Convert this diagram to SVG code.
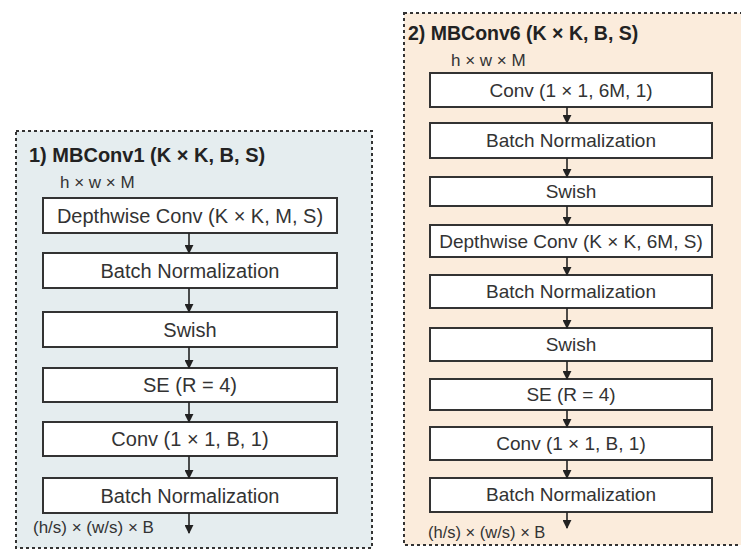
<svg xmlns="http://www.w3.org/2000/svg" width="741" height="552" viewBox="0 0 741 552">
  <defs>
    <marker id="arrow" viewBox="0 0 10 10" refX="9" refY="5" markerWidth="9" markerHeight="9" markerUnits="userSpaceOnUse" orient="auto">
      <path d="M0,0 L10,5 L0,10 z" fill="#222"/>
    </marker>
    <style>
      .panel { stroke: #333; stroke-width: 2; stroke-dasharray: 3 3; }
      .box { fill: #fff; stroke: #333; stroke-width: 2; }
      .label { font-family: "Liberation Sans", Arial, sans-serif; font-size: 20px; fill: #333; text-anchor: middle; }
      .label.sm { font-size: 19px; }
      .title { font-family: "Liberation Sans", Arial, sans-serif; font-size: 20px; font-weight: bold; fill: #222; }
      .title.sm { font-size: 19.5px; }
      .dim { font-family: "Liberation Sans", Arial, sans-serif; font-size: 17px; fill: #333; }
      .dim.sm { font-size: 16.5px; }
      .edge { stroke: #222; stroke-width: 1.6; fill: none; marker-end: url(#arrow); }
    </style>
  </defs>
  <rect width="741" height="552" fill="#fff"/>

  <!-- Panel 1: MBConv1 -->
  <g id="panel-mbconv1">
    <rect class="panel" x="16" y="131" width="356" height="417" fill="#e5edef"/>
    <text class="title" x="29" y="162">1) MBConv1 (K × K, B, S)</text>
    <text class="dim" x="60" y="188">h × w × M</text>
  </g>
  <g id="p1-dwconv"><rect class="box" x="43" y="198" width="294" height="35"/><text class="label" x="190" y="223">Depthwise Conv (K × K, M, S)</text></g>
  <g id="p1-bn1"><rect class="box" x="43" y="253" width="294" height="35"/><text class="label" x="190" y="278">Batch Normalization</text></g>
  <g id="p1-swish"><rect class="box" x="43" y="312" width="294" height="35"/><text class="label" x="190" y="337">Swish</text></g>
  <g id="p1-se"><rect class="box" x="43" y="368" width="294" height="34"/><text class="label" x="190" y="392">SE (R = 4)</text></g>
  <g id="p1-conv"><rect class="box" x="43" y="422" width="294" height="34"/><text class="label" x="190" y="446">Conv (1 × 1, B, 1)</text></g>
  <g id="p1-bn2"><rect class="box" x="43" y="478" width="294" height="35"/><text class="label" x="190" y="503">Batch Normalization</text></g>
  <g id="p1-out"><text class="dim" x="33" y="533">(h/s) × (w/s) × B</text></g>

  <!-- Panel 2: MBConv6 -->
  <g id="panel-mbconv6">
    <rect class="panel" x="404" y="13" width="345" height="532" fill="#fbecdc"/>
    <text class="title sm" x="408" y="40">2) MBConv6 (K × K, B, S)</text>
    <text class="dim" x="451" y="66">h × w × M</text>
  </g>
  <g id="p2-conv1"><rect class="box" x="430" y="73" width="282" height="34"/><text class="label sm" x="571" y="97">Conv (1 × 1, 6M, 1)</text></g>
  <g id="p2-bn1"><rect class="box" x="430" y="123" width="282" height="35"/><text class="label sm" x="571" y="147">Batch Normalization</text></g>
  <g id="p2-swish1"><rect class="box" x="430" y="177" width="282" height="29"/><text class="label sm" x="571" y="198">Swish</text></g>
  <g id="p2-dwconv"><rect class="box" x="430" y="225" width="282" height="32"/><text class="label sm" x="571" y="248">Depthwise Conv (K × K, 6M, S)</text></g>
  <g id="p2-bn2"><rect class="box" x="430" y="275" width="282" height="33"/><text class="label sm" x="571" y="298">Batch Normalization</text></g>
  <g id="p2-swish2"><rect class="box" x="430" y="328" width="282" height="33"/><text class="label sm" x="571" y="351">Swish</text></g>
  <g id="p2-se"><rect class="box" x="430" y="379" width="282" height="31"/><text class="label sm" x="571" y="401">SE (R = 4)</text></g>
  <g id="p2-conv2"><rect class="box" x="430" y="427" width="282" height="33"/><text class="label sm" x="571" y="450">Conv (1 × 1, B, 1)</text></g>
  <g id="p2-bn3"><rect class="box" x="430" y="478" width="282" height="34"/><text class="label sm" x="571" y="501">Batch Normalization</text></g>
  <g id="p2-out"><text class="dim sm" x="428" y="538">(h/s) × (w/s) × B</text></g>

  <!-- Connectors -->
  <g id="connectors">
    <line class="edge" x1="189" y1="233" x2="189" y2="253"/>
    <line class="edge" x1="189" y1="288" x2="189" y2="312"/>
    <line class="edge" x1="189" y1="347" x2="189" y2="368"/>
    <line class="edge" x1="189" y1="402" x2="189" y2="422"/>
    <line class="edge" x1="189" y1="456" x2="189" y2="478"/>
    <line class="edge" x1="189" y1="513" x2="189" y2="533"/>

    <line class="edge" x1="567" y1="107" x2="567" y2="123"/>
    <line class="edge" x1="567" y1="158" x2="567" y2="177"/>
    <line class="edge" x1="567" y1="206" x2="567" y2="225"/>
    <line class="edge" x1="567" y1="257" x2="567" y2="275"/>
    <line class="edge" x1="567" y1="308" x2="567" y2="328"/>
    <line class="edge" x1="567" y1="361" x2="567" y2="379"/>
    <line class="edge" x1="567" y1="410" x2="567" y2="427"/>
    <line class="edge" x1="567" y1="460" x2="567" y2="478"/>
    <line class="edge" x1="567" y1="512" x2="567" y2="528"/>
  </g>
</svg>
